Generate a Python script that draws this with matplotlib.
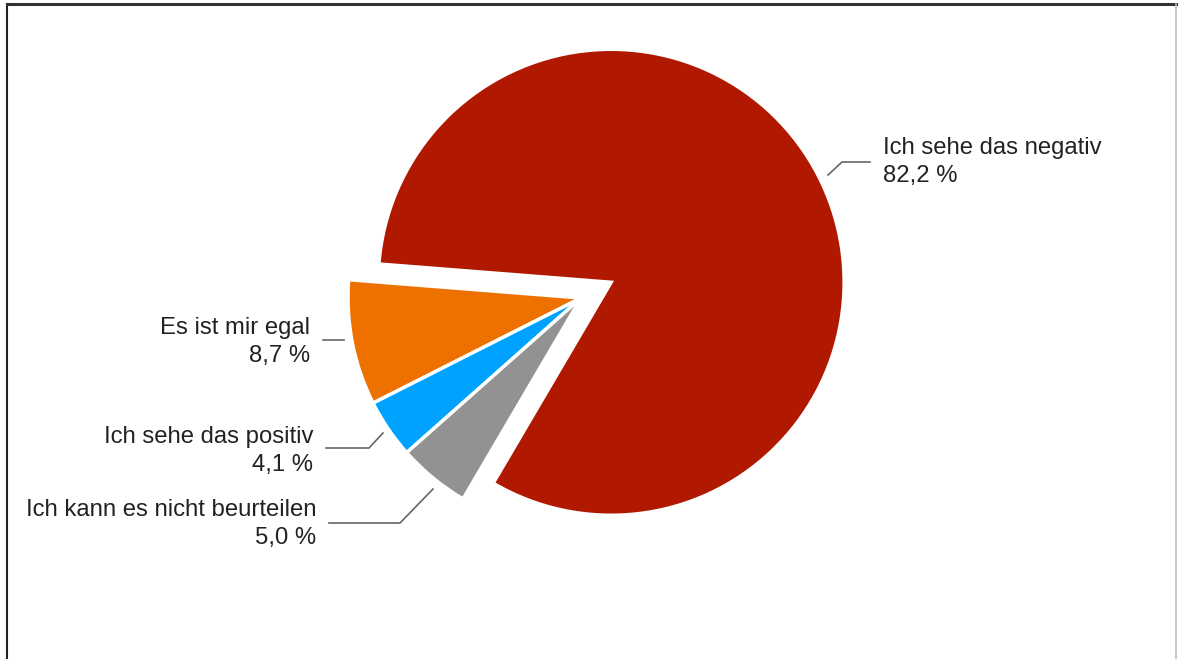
import matplotlib
matplotlib.use("Agg")
import matplotlib.pyplot as plt

plt.rcParams['font.family'] = ['Liberation Sans', 'DejaVu Sans']

# data
labels = ["Es ist mir egal", "Ich sehe das positiv", "Ich kann es nicht beurteilen", "Ich sehe das negativ"]
values = [8.7, 4.1, 5.0, 82.2]
pct_text = ["8,7 %", "4,1 %", "5,0 %", "82,2 %"]
colors = ["#EE7100", "#00A2FF", "#929292", "#B01800"]

W, H = 1178, 659
fig = plt.figure(figsize=(W / 100, H / 100), dpi=100)
ax = fig.add_axes([0, 0, 1, 1])
ax.set_xlim(0, W)
ax.set_ylim(0, H)
ax.axis("off")

def py(y):
    # pixel row -> data y
    return H - y

r = 233
# explode is in data units here (pixels)
wedges, _ = ax.pie(values, colors=colors, startangle=175.5, counterclock=True,
                   center=(581, py(298)), radius=r,
                   explode=[0, 0, 0, 34],
                   wedgeprops=dict(edgecolor="white", linewidth=2.5))
ax.set_xlim(0, W)
ax.set_ylim(0, H)
ax.set_aspect("equal")

line_col = "#666666"
txt_col = "#222222"
fs = 17.2

# leader lines (pixel coordinates)
leaders = [
    [(323, 340), (344, 340)],
    [(326, 448), (369, 448), (383, 433)],
    [(329, 523), (400, 523), (433, 489)],
    [(828, 175), (842, 162), (870, 162)],
]
for pts in leaders:
    ax.plot([p[0] for p in pts], [py(p[1]) for p in pts], color=line_col, lw=1.2)

# label positions: (x, y of first line, align)
label_pos = [(310, 328, "right"), (313, 437, "right"), (316, 510, "right"), (883, 148, "left")]
for (x, y, ha), lab, pct in zip(label_pos, labels, pct_text):
    ax.text(x, py(y), lab, ha=ha, va="center", fontsize=fs, color=txt_col)
    ax.text(x, py(y + 28), pct, ha=ha, va="center", fontsize=fs, color=txt_col)

# frame
ax.plot([7, 7], [py(4), py(659)], color="#222222", lw=1.5)
ax.plot([7, 1176], [py(4), py(4)], color="#333333", lw=2.2)
ax.plot([1176, 1176], [py(4), py(659)], color="#bbbbbb", lw=1.2)

fig.savefig("out.png", dpi=100)
